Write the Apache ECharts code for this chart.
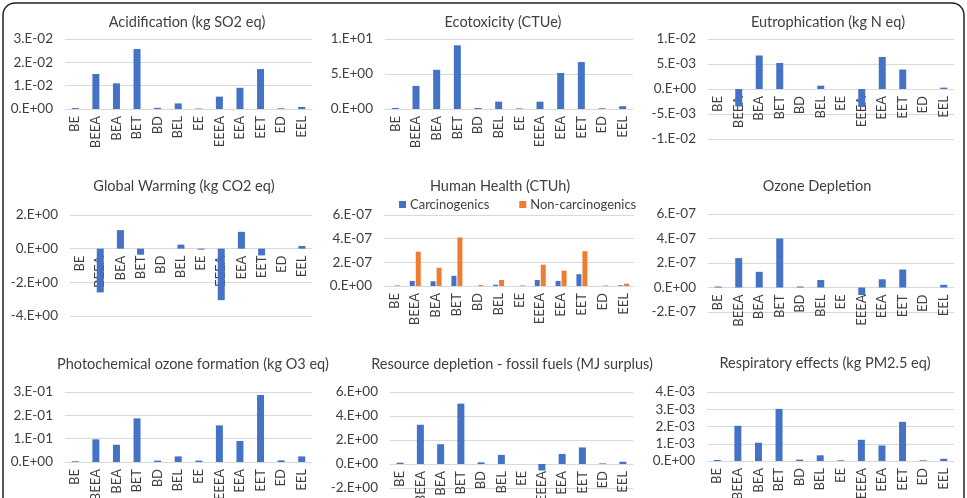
<!DOCTYPE html>
<html>
<head>
<meta charset="utf-8">
<script src="https://cdn.jsdelivr.net/npm/echarts@6/dist/echarts.min.js"></script>
<style>
  html, body { margin: 0; padding: 0; background: #fff; }
  #main { width: 967px; height: 498px; }
</style>
</head>
<body>
<div id="main"></div>
<script>
// 类别
var categories = ['BE', 'BEEA', 'BEA', 'BET', 'BD', 'BEL', 'EE', 'EEEA', 'EEA', 'EET', 'ED', 'EEL'];

// 各图数据
var acidification = [0.0004, 0.015, 0.011, 0.0257, 0.0005, 0.0024, 0.0002, 0.0053, 0.0091, 0.0171, 0.0003, 0.0009];
var ecotoxicity = [0.15, 3.3, 5.6, 9.1, 0.15, 1.05, 0.08, 1.05, 5.15, 6.7, 0.1, 0.4];
var eutrophication = [0, -0.0035, 0.0067, 0.0052, 0, 0.00067, 0, -0.0036, 0.0064, 0.0039, 0, 0.00027];
var globalWarming = [0, -2.6, 1.1, -0.36, 0, 0.24, -0.06, -3.06, 1.0, -0.4, 0, 0.16];
var carcinogenics = [0.003e-7, 0.43e-7, 0.4e-7, 0.86e-7, 0.003e-7, 0.11e-7, 0.002e-7, 0.51e-7, 0.43e-7, 1.0e-7, 0.003e-7, 0.06e-7];
var nonCarcinogenics = [0.06e-7, 2.9e-7, 1.54e-7, 4.1e-7, 0.09e-7, 0.51e-7, 0.05e-7, 1.8e-7, 1.29e-7, 2.94e-7, 0.05e-7, 0.2e-7];
var ozoneDepletion = [0.08e-7, 2.4e-7, 1.28e-7, 4.0e-7, 0.08e-7, 0.61e-7, 0, -0.61e-7, 0.67e-7, 1.47e-7, 0, 0.22e-7];
var photochemical = [0.003, 0.097, 0.074, 0.187, 0.006, 0.024, 0.006, 0.157, 0.09, 0.287, 0.007, 0.024];
var fossilFuels = [0.11, 3.27, 1.65, 5.03, 0.14, 0.76, 0, -0.54, 0.84, 1.38, 0.05, 0.19];
var respiratory = [0.06e-3, 2.04e-3, 1.06e-3, 3.02e-3, 0.08e-3, 0.33e-3, 0.04e-3, 1.23e-3, 0.9e-3, 2.27e-3, 0.04e-3, 0.13e-3];

// 标题
var titles = [
  'Acidification (kg SO2 eq)', 'Ecotoxicity (CTUe)', 'Eutrophication (kg N eq)',
  'Global Warming (kg CO2 eq)', 'Human Health (CTUh)', 'Ozone Depletion',
  'Photochemical ozone formation (kg O3 eq)', 'Resource depletion - fossil fuels (MJ surplus)', 'Respiratory effects (kg PM2.5 eq)'
];
var legendNames = ['Carcinogenics', 'Non-carcinogenics'];

// y轴范围 [min, max, interval]
var yRanges = [
  [0, 0.03, 0.01], [0, 10, 5], [-0.01, 0.01, 0.005],
  [-4, 2, 2], [0, 6e-7, 2e-7], [-2e-7, 6e-7, 2e-7],
  [0, 0.3, 0.1], [-2, 6, 2], [0, 4e-3, 1e-3]
];

var BLUE = '#4472C4', ORANGE = '#ED7D31', TEXT = '#404040', GRIDLINE = '#d9d9d9';
var FONT = 'Lato';

// 网格位置 (px)
var grids = [
  { left: 65, top: 39, width: 247, height: 70 },
  { left: 385, top: 39, width: 248, height: 70 },
  { left: 708, top: 39, width: 246, height: 100 },
  { left: 70, top: 215, width: 242, height: 101 },
  { left: 384, top: 215, width: 250, height: 71 },
  { left: 708, top: 214, width: 246, height: 98 },
  { left: 65, top: 392, width: 247, height: 70 },
  { left: 390, top: 392, width: 243, height: 96 },
  { left: 707, top: 392, width: 247, height: 69 }
];
// 标题中心
var titlePos = [[187, 24], [503, 24], [828, 24], [184, 188], [500, 188], [817, 188], [193, 366], [512, 366], [825, 365]];

// Excel "0.E+00" 格式
function sci(v) {
  if (Math.abs(v) < 1e-20) return '0.E+00';
  var e = Math.floor(Math.log10(Math.abs(v)) + 1e-9);
  var m = Math.round(v / Math.pow(10, e));
  if (Math.abs(m) >= 10) { m = m / 10; e++; }
  var ae = Math.abs(e);
  return m + '.E' + (e < 0 ? '-' : '+') + (ae < 10 ? '0' : '') + ae;
}

var chart = echarts.init(document.getElementById('main'));

var option = {
  animation: false,
  textStyle: { fontFamily: FONT },
  title: [],
  grid: [],
  xAxis: [],
  yAxis: [],
  series: [],
  legend: {
    data: legendNames,
    left: 399, top: 198,
    itemWidth: 7, itemHeight: 7, itemGap: 30,
    icon: 'rect',
    padding: 0,
    textStyle: { color: TEXT, fontSize: 13, fontFamily: FONT, padding: [0, 0, 0, -1] }
  },
  graphic: [{
    type: 'rect',
    shape: { x: 3, y: 3, width: 961, height: 540, r: 12 },
    style: { fill: 'none', stroke: '#222', lineWidth: 1.5 },
    silent: true
  }]
};

var singleData = [acidification, ecotoxicity, eutrophication, globalWarming, null, ozoneDepletion, photochemical, fossilFuels, respiratory];

for (var i = 0; i < 9; i++) {
  var g = grids[i], r = yRanges[i];
  option.title.push({
    text: titles[i],
    left: titlePos[i][0], top: titlePos[i][1] - 9,
    textAlign: 'center',
    padding: 0,
    textStyle: { color: TEXT, fontSize: 14.5, fontWeight: 'normal', fontFamily: FONT }
  });
  option.grid.push({
    left: g.left, top: g.top, width: g.width, height: g.height,
    outerBoundsMode: 'none'
  });
  // 类别轴放在零线处（标签随轴一起移动）
  var zeroShift = g.height * (0 - r[0]) / (r[1] - r[0]);
  option.xAxis.push({
    type: 'category', gridIndex: i, data: categories,
    position: 'bottom', offset: -zeroShift,
    axisLine: { onZero: false, lineStyle: { color: GRIDLINE } },
    axisTick: { show: false },
    axisLabel: { rotate: 90, interval: 0, color: TEXT, fontSize: 13, fontFamily: FONT, margin: 7 }
  });
  option.yAxis.push({
    type: 'value', gridIndex: i,
    min: r[0], max: r[1], interval: r[2],
    axisLine: { show: false }, axisTick: { show: false },
    splitLine: { lineStyle: { color: GRIDLINE } },
    axisLabel: { formatter: sci, color: TEXT, fontSize: 13.5, fontFamily: FONT, margin: 12 }
  });
  if (i === 4) {
    option.series.push({
      name: legendNames[0], type: 'bar', xAxisIndex: i, yAxisIndex: i,
      data: carcinogenics, barWidth: 5, barGap: '20%', itemStyle: { color: BLUE }
    });
    option.series.push({
      name: legendNames[1], type: 'bar', xAxisIndex: i, yAxisIndex: i,
      data: nonCarcinogenics, barWidth: 5, barGap: '20%', itemStyle: { color: ORANGE }
    });
  } else {
    option.series.push({
      type: 'bar', xAxisIndex: i, yAxisIndex: i,
      data: singleData[i], barWidth: 7, itemStyle: { color: BLUE }
    });
  }
}

chart.setOption(option);
</script>
</body>
</html>
